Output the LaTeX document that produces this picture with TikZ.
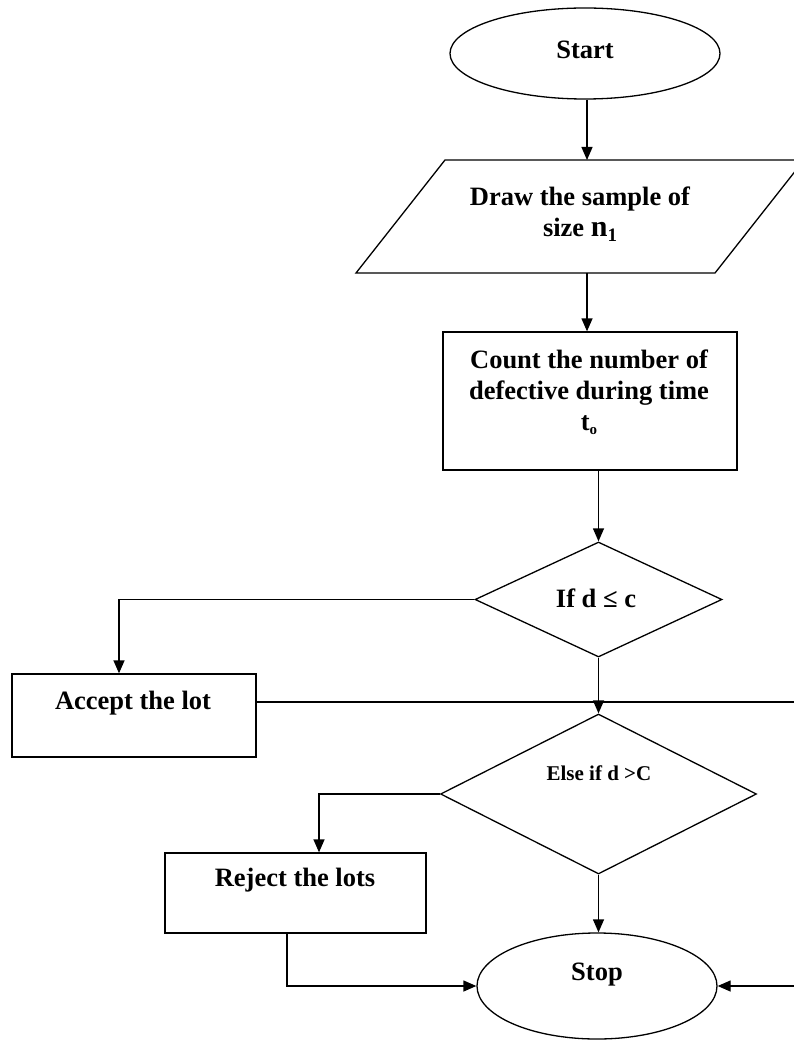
\documentclass[tikz,border=0pt]{standalone}
\usepackage{fontspec}
\setmainfont{Liberation Serif}
\usetikzlibrary{shapes.geometric,arrows.meta,calc}
\begin{document}
\begin{tikzpicture}[x=1pt,y=-1pt,
  line width=1.3pt,
  arr/.style={-{Triangle[length=13pt,width=11pt]}},
  term/.style={draw,ellipse,inner sep=0pt},
  proc/.style={draw,rectangle,inner sep=0pt},
  dec/.style={draw,diamond,inner sep=0pt},
  lbl/.style={font=\bfseries\fontsize{26.5}{31}\selectfont,align=center,inner sep=0pt},
  lbls/.style={font=\bfseries\fontsize{21}{25}\selectfont,align=center,inner sep=0pt}]
\useasboundingbox (0,0) rectangle (794,1040);
% shapes
\node[term,minimum width=270pt,minimum height=91pt] (start) at (585,53.5) {};
\draw (445,160) -- (804,160) -- (715,273) -- (356,273) -- cycle;
\coordinate (parT) at (587,160);
\coordinate (parB) at (587,273);
\node[proc,minimum width=294pt,minimum height=138pt] (count) at (590,401) {};
\node[dec,minimum width=247pt,minimum height=115pt] (d1) at (598.5,599.5) {};
\node[proc,minimum width=244pt,minimum height=83pt] (accept) at (134,715.5) {};
\node[dec,minimum width=316pt,minimum height=160pt] (d2) at (598.5,794) {};
\node[proc,minimum width=261pt,minimum height=80pt] (reject) at (295.5,893) {};
\node[term,minimum width=240pt,minimum height=106pt] (stop) at (597,986) {};
\coordinate (rt) at (800,986);
% texts
\node[lbl] (tstart) at (585,50) {Start};
\node[lbl] (tpar) at (580,214) {Draw the sample of\\size {\fontsize{30}{30}\selectfont n}\raisebox{-5pt}{\fontsize{19}{19}\selectfont 1}};
\node[lbl] (tcount) at (589,392) {Count the number of\\defective during time\\t\raisebox{-4pt}{\fontsize{15}{15}\selectfont o}};
\node[lbl] (td1) at (596,598) {If d ≤ c};
\node[lbl] (taccept) at (133,703) {Accept the lot};
\node[lbls] (td2) at (599,773) {Else if d >C};
\node[lbl] (treject) at (295,880) {Reject the lots};
\node[lbl] (tstop) at (597,975) {Stop};
% connectors
\draw[arr] (start.south -| parT) -- (parT);
\draw[arr] (parB) -- (parB |- count.north);
\draw[arr] (d1.north |- count.south) -- (d1.north);
\draw[arr] (d1.west) -| ([xshift=-15pt]accept.north);
\draw[arr] (d1.south) -- (d2.north);
\draw[arr] ([yshift=13.5pt]accept.east) -| (rt) -- (stop.east);
\draw[arr] (d2.west) -| ([xshift=23.5pt]reject.north);
\draw[arr] (d2.south) -- (d2.south |- stop.north);
\draw[arr] ([xshift=-8.5pt]reject.south) |- (stop.west);
\end{tikzpicture}
\end{document}
